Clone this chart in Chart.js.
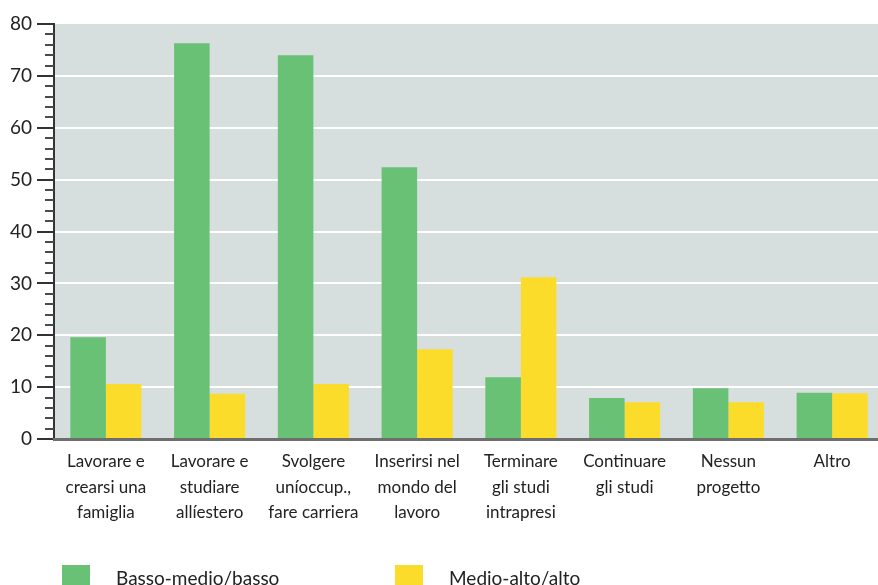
<!DOCTYPE html>
<html><head><meta charset="utf-8">
<script src="https://cdn.jsdelivr.net/npm/chart.js@4"></script>
<style>html,body{margin:0;padding:0;background:#fff;overflow:hidden}#wrap{width:878px;height:585px;position:relative;overflow:hidden}</style>
</head><body><div id="wrap"><canvas id="c" width="884" height="585"></canvas></div>
<script>
const categories = [
  ["Lavorare e","crearsi una","famiglia"],
  ["Lavorare e","studiare","allíestero"],
  ["Svolgere","uníoccup.,","fare carriera"],
  ["Inserirsi nel","mondo del","lavoro"],
  ["Terminare","gli studi","intrapresi"],
  ["Continuare","gli studi"],
  ["Nessun","progetto"],
  ["Altro"]
];
const seriesNames = ["Basso-medio/basso","Medio-alto/alto"];
const bassoValues = [19.6, 76.3, 74.0, 52.4, 11.9, 7.9, 9.8, 8.9];
const altoValues  = [10.6, 8.7, 10.6, 17.3, 31.2, 7.1, 7.1, 8.8];
const yTickMax = 80;
const FONT = "Lato, 'Open Sans', sans-serif";

const bgPlugin = {
  id:'bg',
  beforeDraw(chart){
    const {ctx, chartArea:a} = chart;
    ctx.save(); ctx.fillStyle='#d6dfdd';
    ctx.fillRect(a.left, a.top, a.right-a.left, a.bottom-a.top);
    ctx.restore();
  },
  afterDraw(chart){
    const {ctx} = chart;
    const y = chart.scales.y;
    ctx.save();
    ctx.strokeStyle='#4a4a4a'; ctx.lineWidth=2;
    for(let v=0; v<=yTickMax; v+=2){
      if(v%10===0) continue;
      const py = Math.round(y.getPixelForValue(v));
      ctx.beginPath(); ctx.moveTo(45, py); ctx.lineTo(y.right, py); ctx.stroke();
    }
    const items = chart.data.datasets;
    const xs = [[62,116],[395,449]];
    ctx.font = "19px " + FONT; ctx.textBaseline='alphabetic';
    items.forEach((d,i)=>{
      ctx.fillStyle=d.backgroundColor;
      ctx.fillRect(xs[i][0], 565, 28, 28);
      ctx.fillStyle='#222';
      ctx.fillText(d.label, xs[i][1], 585);
    });
    ctx.restore();
  }
};

new Chart(document.getElementById('c'), {
  type:'bar',
  data:{
    labels: categories,
    datasets:[
      {label: seriesNames[0], data: bassoValues, backgroundColor:'#68c174'},
      {label: seriesNames[1], data: altoValues, backgroundColor:'#fcdc2a'}
    ]
  },
  options:{
    responsive:false, animation:false,
    layout:{padding:{top:24, right:0, left:0, bottom:0}},
    plugins:{legend:{display:false}, tooltip:{enabled:false}},
    datasets:{bar:{categoryPercentage:0.685, barPercentage:1.0}},
    scales:{
      x:{
        grid:{display:false, drawTicks:false},
        border:{display:true, color:'#6e6e6e', width:3, z:1},
        ticks:{color:'#222', font:{family:FONT, size:17, lineHeight:1.5}, padding:10, maxRotation:0, autoSkip:false},
        afterFit(s){ s.height = 146; }
      },
      y:{
        min:0, max:yTickMax,
        border:{display:true, color:'#333', width:2},
        grid:{
          color:(c)=> (c.tick && c.tick.value%10===0 && c.tick.value>0 && c.tick.value<yTickMax) ? '#ffffff' : 'rgba(0,0,0,0)',
          lineWidth:2,
          tickColor:(c)=> (c.tick && c.tick.value%10===0) ? '#333' : 'rgba(0,0,0,0)',
          tickLength:17, tickWidth:2
        },
        ticks:{stepSize:2, autoSkip:false, color:'#222', font:{family:FONT, size:19}, padding:5,
          callback:(v)=> v%10===0 ? String(v) : ''},
        afterFit(s){ s.width = 54; }
      }
    }
  },
  plugins:[bgPlugin]
});
</script></body></html>
